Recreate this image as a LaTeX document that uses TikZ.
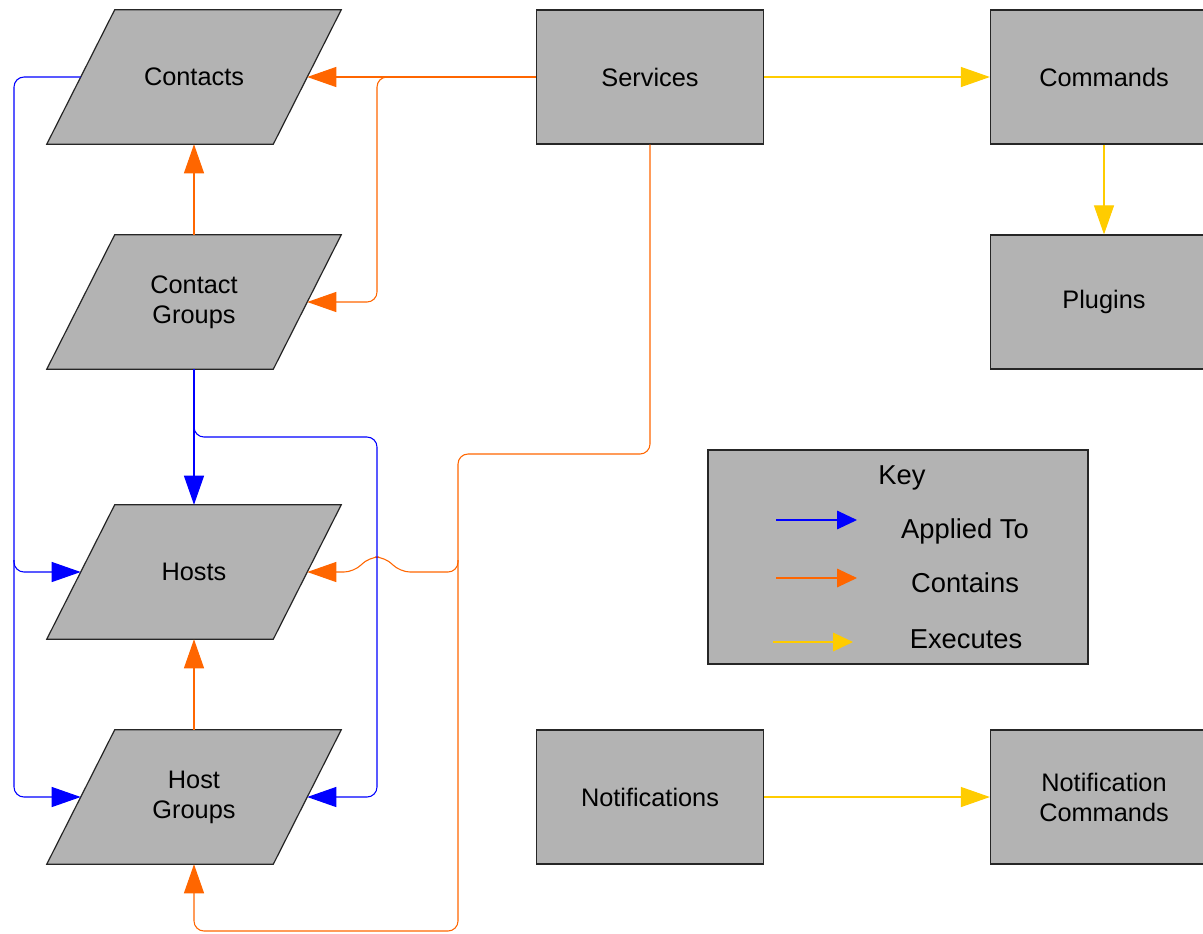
\documentclass[tikz,border=0pt]{standalone}
\usepackage{fontspec}
\setmainfont{Liberation Sans}
\usetikzlibrary{arrows.meta,calc}
\pgfdeclarelayer{background}
\pgfsetlayers{background,main}
\definecolor{boxgray}{HTML}{B3B3B3}
\definecolor{appl}{HTML}{0000FF}
\definecolor{cont}{HTML}{FF6600}
\definecolor{exec}{HTML}{FFCC00}
\tikzset{
  lbl/.style={font=\fontsize{19}{22.5}\selectfont, align=center, inner sep=0pt},
  box/.style={lbl, draw=black!85, fill=boxgray, line width=0.9pt, minimum width=170.25pt, minimum height=100.5pt},
  parabox/.style={lbl, minimum width=169.5pt, minimum height=100.5pt},
  conn/.style={line width=0.8pt, rounded corners=7.5pt},
  applied/.style={conn, draw=appl, -{Triangle[length=21.75pt,width=15pt]}},
  contains/.style={conn, draw=cont, -{Triangle[length=21.75pt,width=15pt]}},
  executes/.style={conn, draw=exec, -{Triangle[length=21.75pt,width=15pt]}},
  keyarrow/.style={line width=0.8pt, -{Triangle[length=15pt,width=14pt]}},
  keylbl/.style={font=\fontsize{20.5}{24}\selectfont, inner sep=0pt},
}
\newcommand{\paradraw}[1]{%
  \begin{pgfonlayer}{background}
    \path[fill=boxgray, draw=black!85, line width=0.9pt]
      ($(#1.north west)+(34,0)$) -- ($(#1.north east)+(34,0)$) --
      ($(#1.south east)+(-34,0)$) -- ($(#1.south west)+(-34,0)$) -- cycle;
  \end{pgfonlayer}}
\begin{document}
\begin{tikzpicture}[x=0.75pt,y=-0.75pt]
\useasboundingbox (0,0) rectangle (1203,933);
\begin{pgfonlayer}{background}
\fill[white] (0,0) rectangle (1203,933);
\end{pgfonlayer}

% parallelogram nodes
\node[parabox] (contacts) at (194,77) {Contacts};
\node[parabox] (cgroups) at (194,302) {Contact\\Groups};
\node[parabox] (hosts) at (194,572) {Hosts};
\node[parabox] (hgroups) at (194,797) {Host\\Groups};
\paradraw{contacts}
\paradraw{cgroups}
\paradraw{hosts}
\paradraw{hgroups}

% rectangle nodes
\node[box] (services) at (650,77) {Services};
\node[box] (commands) at (1104,77) {Commands};
\node[box] (plugins) at (1104,302) {Plugins};
\node[box] (notif) at (650,797) {Notifications};
\node[box] (notifcmd) at (1104,797) {Notification\\Commands};

% key
\node[draw=black!85, fill=boxgray, line width=0.9pt, minimum width=285pt, minimum height=160.5pt, inner sep=0pt] (key) at (898,557) {};
\node[keylbl] (keytitle) at (902,478) {Key};
\node[keylbl] (kapplied) at (965,531) {Applied To};
\node[keylbl] (kcontains) at (965,583) {Contains};
\node[keylbl] (kexecutes) at (966,639) {Executes};
\coordinate (ka1) at (776,520);
\coordinate (ka2) at (857,520);
\coordinate (kc1) at (776,578);
\coordinate (kc2) at (857,578);
\coordinate (ke1) at (773,642);
\coordinate (ke2) at (853,642);
\draw[keyarrow, draw=appl] (ka1) -- (ka2);
\draw[keyarrow, draw=cont] (kc1) -- (kc2);
\draw[keyarrow, draw=exec] (ke1) -- (ke2);

% executes
\draw[executes] (services.east) -- (commands.west);
\draw[executes] (commands.south) -- (plugins.north);
\draw[executes] (notif.east) -- (notifcmd.west);

% contains
\draw[contains] (services.west) -- (contacts.east);
\draw[contains] (services.west) -- (377,77) -- (377,302) -- (cgroups.east);
\draw[contains] (cgroups.north) -- (contacts.south);
\draw[contains] (hgroups.north) -- (hosts.south);
\draw[contains] (services.south) -- (650,454) -- (458,454) -- (458,572) -- (400,572)
   -- (385,557) -- (369,557) -- (354,572) -- (hosts.east);
\draw[contains] (458,560) -- (458,931) -- (194,931) -- (hgroups.south);

% applied to
\draw[applied] (cgroups.south) -- (hosts.north);
\draw[applied] (cgroups.south) -- (194,437) -- (377,437) -- (377,797) -- (hgroups.east);
\draw[applied] (contacts.west) -- (14,77) -- (14,572) -- (hosts.west);
\draw[applied] (14,560) -- (14,797) -- (hgroups.west);
\end{tikzpicture}
\end{document}
